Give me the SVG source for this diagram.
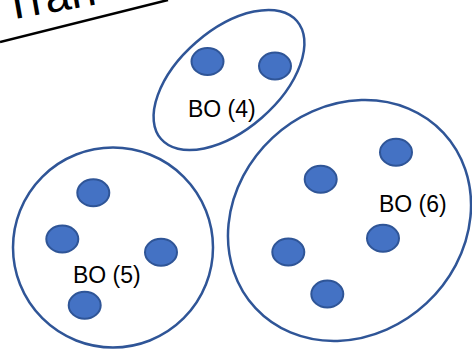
<svg xmlns="http://www.w3.org/2000/svg" width="472" height="350" viewBox="0 0 472 350">
<style>
.grp{fill:none;stroke:#2F5597;stroke-width:2.5}
.dot{fill:#4472C4;stroke:#2F5597;stroke-width:2}
.lbl{font-family:"Liberation Sans",Arial,sans-serif;font-size:23px;fill:#000}
.ttl{font-family:"Liberation Sans",Arial,sans-serif;font-size:46px;fill:#000}
</style>
<rect width="472" height="350" fill="#fff"/>
<g id="title">
<text class="ttl" x="6" y="18" transform="rotate(-10 20 18)">Tran</text>
<line x1="0" y1="42" x2="168" y2="0" stroke="#000" stroke-width="2.5"/>
</g>
<g id="bo4">
<ellipse class="grp" cx="229" cy="80" rx="90" ry="50" transform="rotate(-41 229 80)"/>
<ellipse class="dot" cx="207.5" cy="61.5" rx="16" ry="13.5"/>
<ellipse class="dot" cx="275" cy="66" rx="16" ry="13.5"/>
<text class="lbl" x="188" y="117">BO (4)</text>
</g>
<g id="bo5">
<circle class="grp" cx="113" cy="247.5" r="100"/>
<ellipse class="dot" cx="93.3" cy="192.7" rx="16" ry="13.5"/>
<ellipse class="dot" cx="62.3" cy="239" rx="16" ry="13.5"/>
<ellipse class="dot" cx="161" cy="252.3" rx="16" ry="13.5"/>
<ellipse class="dot" cx="84.7" cy="305.3" rx="16" ry="13.5"/>
<text class="lbl" x="73" y="283">BO (5)</text>
</g>
<g id="bo6">
<ellipse class="grp" cx="349.5" cy="220.5" rx="128.5" ry="113" transform="rotate(-43 349.5 220.5)"/>
<ellipse class="dot" cx="396" cy="152.3" rx="16" ry="13.5"/>
<ellipse class="dot" cx="320.7" cy="179.3" rx="16" ry="13.5"/>
<ellipse class="dot" cx="383" cy="238.3" rx="16" ry="13.5"/>
<ellipse class="dot" cx="288.3" cy="252" rx="16" ry="13.5"/>
<ellipse class="dot" cx="327.3" cy="294" rx="16" ry="13.5"/>
<text class="lbl" x="379" y="212">BO (6)</text>
</g>
<g id="connectors"></g>
</svg>
